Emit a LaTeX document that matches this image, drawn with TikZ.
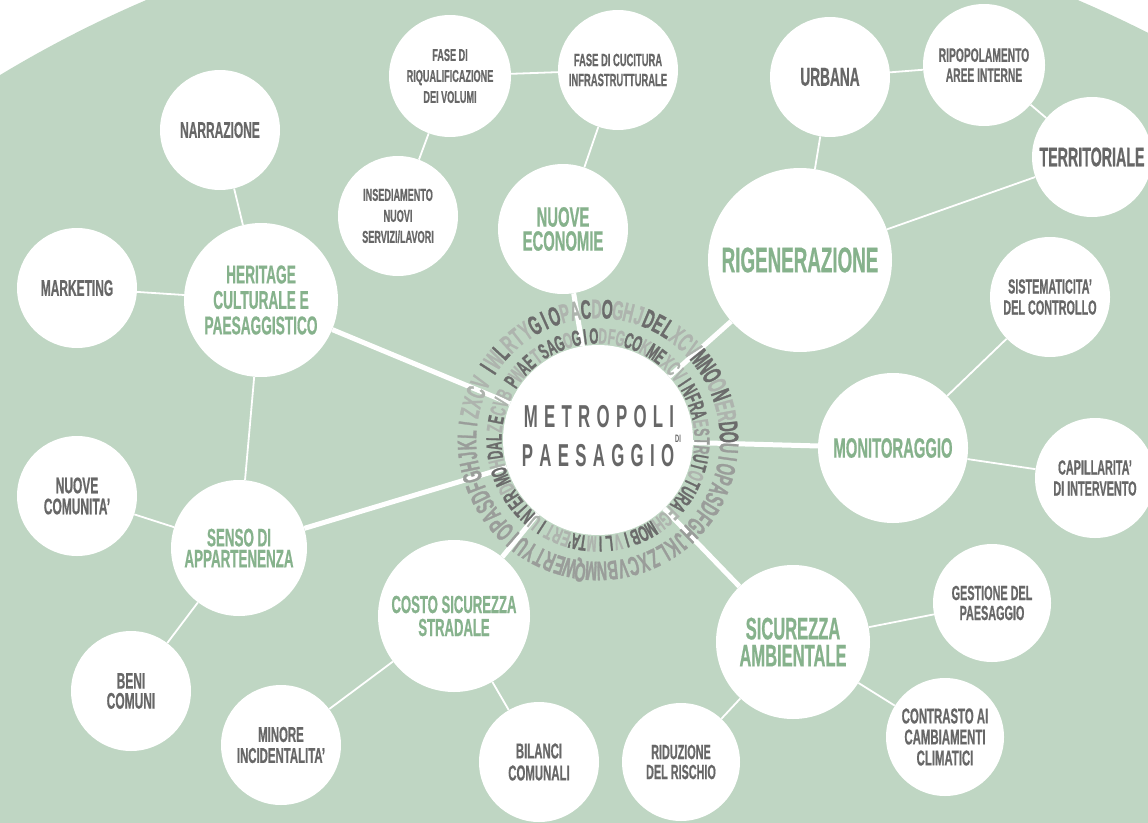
\documentclass[tikz,border=0pt]{standalone}
\usepackage{fontspec}
\newfontfamily\cond[FakeStretch=0.53,Scale=1.075,FakeBold=0.6]{Liberation Sans Bold}
\newfontfamily\condmid[FakeStretch=0.53,Scale=1.075]{Liberation Sans Bold}
\newfontfamily\ringf[FakeStretch=0.53,Scale=1.075,FakeBold=1]{Liberation Sans Bold}
\definecolor{bggreen}{HTML}{BFD6C3}
\definecolor{txtgreen}{HTML}{86B28C}
\definecolor{txtgrey}{HTML}{676767}
\definecolor{ringd}{HTML}{6B6B6B}
\definecolor{ringm}{HTML}{9A9D9A}
\definecolor{ringl}{HTML}{AEB4AE}
\newcommand\cfont[2]{\cond\fontsize{#1}{#2}\selectfont}
\newcommand\lsp{\kern6.3pt}
\newlength\ringw
\newcommand\ringtext[6]{%
  \gdef\rtot{0}\gdef\rnum{0}%
  \foreach \ch/\cc in {#6}{%
    \settowidth\ringw{#3\ch}%
    \pgfmathsetmacro\rtmp{\rtot+\ringw}\xdef\rtot{\rtmp}%
    \pgfmathtruncatemacro\rtmpn{\rnum+1}\xdef\rnum{\rtmpn}}%
  \pgfmathsetmacro\rtrk{(2*pi*#1*(1-#4/360)-\rtot)/\rnum}%
  \gdef\rang{#2}%
  \foreach \ch/\cc [count=\i] in {#6}{%
    \settowidth\ringw{#3\ch}%
    \pgfmathsetmacro\rhalf{(\ringw+\rtrk)/2/#1*180/pi}%
    \pgfmathsetmacro\rmid{\rang-\rhalf}%
    \node[inner sep=0pt, font=#3, text=ring\cc, rotate=\rmid-90] (#5\i) at ({598+#1*cos(\rmid)},{440-#1*sin(\rmid)}) {\ch};
    \pgfmathsetmacro\rnext{\rang-2*\rhalf}%
    \xdef\rang{\rnext}}%
}
\tikzset{
  bub/.style={circle, fill=white, draw=none, inner sep=0pt, minimum size=#1, align=center, text=txtgrey},
  cat/.style={text=txtgreen},
  thin/.style={draw=white, line width=1.8pt},
  thick/.style={draw=white, line width=5pt}
}
\begin{document}
\begin{tikzpicture}[x=1pt,y=-1pt]
\useasboundingbox (0,0) rectangle (1148,822);
\begin{scope}
\clip (0,0) rectangle (1148,822);
\fill[bggreen] (612,1090) circle (1185);
\end{scope}

% centre
\node[bub=190] (c) at (598,440) {};
\node[inner sep=0pt, text=txtgrey, font=\condmid\fontsize{29.5}{29.5}\selectfont] (t1) at (599,417) {M\lsp E\lsp T\lsp R\lsp O\lsp P\lsp O\lsp L\lsp I};
\node[inner sep=0pt, text=txtgrey, font=\condmid\fontsize{29.5}{29.5}\selectfont] (t2) at (598,456) {P\lsp A\lsp E\lsp S\lsp A\lsp G\lsp G\lsp I\lsp O};
\node[inner sep=0pt, text=txtgrey, font=\condmid\fontsize{10}{10}\selectfont] (t3) at (678,439) {DI};

% nuove economie cluster
\node[bub=122, font=\cfont{16}{21}] (fr) at (450,76) {FASE DI\\RIQUALIFICAZIONE\\DEI VOLUMI};
\node[bub=120, font=\cfont{16.5}{20}] (fc) at (618,70) {FASE DI CUCITURA\\INFRASTRUTTURALE};
\node[bub=120, font=\cfont{16}{21}] (ins) at (398,216) {INSEDIAMENTO\\NUOVI\\SERVIZI/LAVORI};
\node[bub=130, cat, font=\cfont{26}{24}] (ne) at (563,229) {NUOVE\\ECONOMIE};

% rigenerazione cluster
\node[bub=120, font=\cfont{24}{24}] (urb) at (830,77) {URBANA};
\node[bub=122, font=\cfont{18}{20}] (rip) at (984,65) {RIPOPOLAMENTO\\AREE INTERNE};
\node[bub=120, font=\cfont{25}{25}] (ter) at (1092,157) {TERRITORIALE};
\node[bub=184, cat, font=\cfont{33}{33}] (rig) at (800,260) {RIGENERAZIONE};

% monitoraggio cluster
\node[bub=120, font=\cfont{19}{21}] (sis) at (1050,297) {SISTEMATICITA’\\DEL CONTROLLO};
\node[bub=150, cat, font=\cfont{26}{26}] (mon) at (893,448) {MONITORAGGIO};
\node[bub=120, font=\cfont{19}{21}] (cap) at (1095,478) {CAPILLARITA’\\DI INTERVENTO};

% sicurezza ambientale cluster
\node[bub=154, cat, font=\cfont{29}{27}] (sic) at (793,642) {SICUREZZA\\AMBIENTALE};
\node[bub=118, font=\cfont{19}{20}] (ges) at (992,603) {GESTIONE DEL\\PAESAGGIO};
\node[bub=118, font=\cfont{20}{21}] (con) at (945,737) {CONTRASTO AI\\CAMBIAMENTI\\CLIMATICI};
\node[bub=118, font=\cfont{19}{20}] (rid) at (681,762) {RIDUZIONE\\DEL RISCHIO};

% costo sicurezza cluster
\node[bub=152, cat, font=\cfont{23}{23}] (cos) at (454,616) {COSTO SICUREZZA\\STRADALE};
\node[bub=120, font=\cfont{20}{21}] (min) at (281,745) {MINORE\\INCIDENTALITA’};
\node[bub=120, font=\cfont{20}{22}] (bil) at (539,762) {BILANCI\\COMUNALI};

% senso di appartenenza cluster
\node[bub=136, cat, font=\cfont{23.5}{21}] (sen) at (239,548) {SENSO DI\\APPARTENENZA};
\node[bub=120, font=\cfont{21}{21}] (nc) at (77,496) {NUOVE\\COMUNITA’};
\node[bub=120, font=\cfont{21}{20}] (ben) at (131,691) {BENI\\COMUNI};

% heritage cluster
\node[bub=154, cat, font=\cfont{24}{25.5}] (her) at (261,300) {HERITAGE\\CULTURALE E\\PAESAGGISTICO};
\node[bub=120, font=\cfont{21}{21}] (nar) at (220,130) {NARRAZIONE};
\node[bub=120, font=\cfont{21}{21}] (mar) at (77,288) {MARKETING};

% connectors
\draw[thick] (c) -- (ne);
\draw[thick] (c) -- (rig);
\draw[thick] (c) -- (mon);
\draw[thick] (c) -- (sic);
\draw[thick] (c) -- (cos);
\draw[thick] (c) -- (sen);
\draw[thick] (c) -- (her);
\draw[thin] (fr) -- (fc);
\draw[thin] (fr) -- (ins);
\draw[thin] (fc) -- (ne);
\draw[thin] (urb) -- (rip);
\draw[thin] (rip) -- (ter);
\draw[thin] (urb) -- (rig);
\draw[thin] (ter) -- (rig);
\draw[thin] (sis) -- (mon);
\draw[thin] (mon) -- (cap);
\draw[thin] (sic) -- (ges);
\draw[thin] (sic) -- (con);
\draw[thin] (sic) -- (rid);
\draw[thin] (cos) -- (min);
\draw[thin] (cos) -- (bil);
\draw[thin] (sen) -- (nc);
\draw[thin] (sen) -- (ben);
\draw[thin] (her) -- (nar);
\draw[thin] (her) -- (mar);
\draw[thin] (her) -- (sen);

% ring texts
\ringtext{131}{149.5}{\ringf\fontsize{25}{25}\selectfont}{2}{o}{I/d,W/l,L/d,R/l,T/l,Y/l,G/d,I/d,O/d,P/l,A/l,C/d,D/l,O/d,G/l,H/l,J/l,D/d,E/d,L/d,X/l,C/l,V/l,M/d,N/d,O/d,O/l,N/d,E/l,R/l,D/d,O/d,U/m,I/m,O/m,P/m,A/m,S/m,D/m,F/m,G/m,H/m,J/m,K/m,L/m,Z/m,X/m,C/m,V/m,B/m,N/m,M/m,Q/m,W/m,E/m,R/m,T/m,Y/m,U/m,I/m,O/m,P/m,A/m,S/m,D/m,F/m,G/m,H/m,J/m,K/m,L/m,I/m,Z/l,X/l,C/l,V/l}
\ringtext{104}{148.5}{\ringf\fontsize{20.5}{20.5}\selectfont}{3}{n}{P/d,W/l,A/d,E/d,T/l,S/d,A/d,G/d,O/l,G/d,I/d,O/d,D/l,F/l,G/l,C/d,O/d,K/l,M/d,E/d,X/l,C/l,V/l,I/d,N/d,F/d,R/d,A/d,E/l,S/m,T/m,R/m,U/d,T/d,O/l,T/d,U/d,R/d,A/d,F/l,G/l,H/l,M/d,O/d,B/d,I/d,V/l,L/d,I/d,M/l,T/d,A’/d,E/l,R/l,T/l,I/d,U/l,N/d,T/d,E/d,R/d,D/l,M/d,O/d,H/l,D/d,A/d,L/d,Z/l,E/d,C/l,V/l,B/l}
\end{tikzpicture}
\end{document}
